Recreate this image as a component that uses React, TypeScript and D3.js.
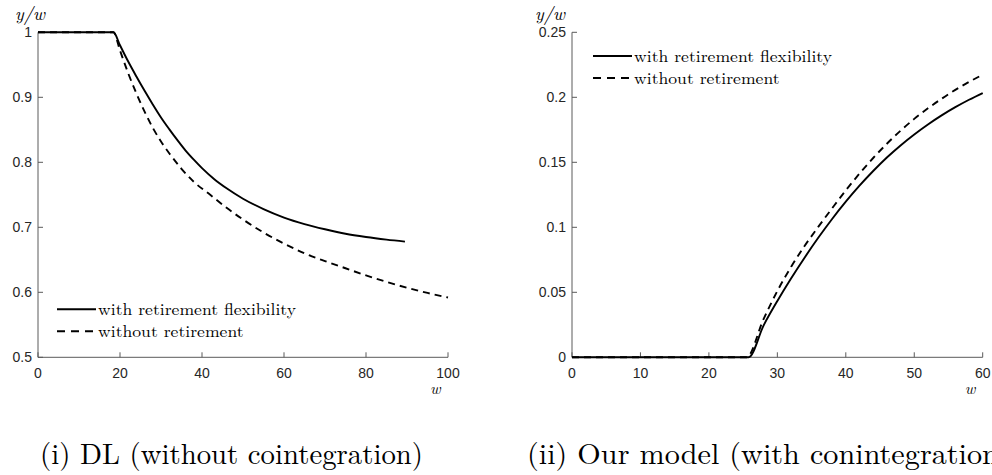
import React, { useLayoutEffect, useRef } from "react";
import * as d3 from "d3";

// ---------- data ----------
// Left panel: DL (without cointegration)
const leftSolidW = [0, 18.4, 20, 22, 24, 26, 28, 30, 32, 34, 36, 38, 40, 43, 46, 50, 55, 60, 65, 70, 75, 80, 85, 89.5];
const leftSolidV = [1, 1, 0.98, 0.955, 0.932, 0.91, 0.889, 0.869, 0.851, 0.834, 0.818, 0.804, 0.791, 0.774, 0.76, 0.744, 0.728, 0.715, 0.705, 0.697, 0.69, 0.685, 0.681, 0.678];
const leftDashW = [0, 18.4, 20, 22, 24, 26, 28, 30, 32, 35, 38, 42, 46, 50, 55, 60, 65, 70, 75, 80, 85, 90, 95, 100];
const leftDashV = [1, 1, 0.972, 0.937, 0.906, 0.878, 0.853, 0.832, 0.814, 0.79, 0.77, 0.75, 0.73, 0.712, 0.692, 0.675, 0.66, 0.648, 0.637, 0.626, 0.616, 0.607, 0.599, 0.592];

// Right panel: Our model (with cointegration)
const rightSolidW = [0, 25.8, 28, 30, 32, 34, 36, 38, 40, 42, 44, 46, 48, 50, 52, 54, 56, 58, 60];
const rightSolidV = [0, 0, 0.0246, 0.0433, 0.0606, 0.0768, 0.0921, 0.1064, 0.1197, 0.132, 0.1433, 0.1537, 0.163, 0.1714, 0.1791, 0.1861, 0.1924, 0.1981, 0.2033];
const rightDashW = [0, 25.5, 28, 30, 32, 34, 36, 38, 40, 42, 44, 46, 48, 50, 52, 54, 56, 58, 60];
const rightDashV = [0, 0, 0.0296, 0.051, 0.0695, 0.0858, 0.1005, 0.1146, 0.1284, 0.1413, 0.1533, 0.1643, 0.1743, 0.1834, 0.1915, 0.1989, 0.2057, 0.2118, 0.2174];

const leftXTicks = [0, 20, 40, 60, 80, 100];
const leftYTicks = [0.5, 0.6, 0.7, 0.8, 0.9, 1];
const leftYTickLabels = ["0.5", "0.6", "0.7", "0.8", "0.9", "1"];
const rightXTicks = [0, 10, 20, 30, 40, 50, 60];
const rightYTicks = [0, 0.05, 0.1, 0.15, 0.2, 0.25];
const rightYTickLabels = ["0", "0.05", "0.1", "0.15", "0.2", "0.25"];

const legendLabels = ["with retirement flexibility", "without retirement"];
const captions = ["(i) DL (without cointegration)", "(ii) Our model (with conintegration)"];

const W = 992;
const H = 475;
const TOP = 32.3;
const BOT = 357.3;
const AXIS = "#5a5a5a";
const TXT = "#262626";
const SERIF = '"Latin Modern Roman"';
const SANS = '"Liberation Sans"';

type PanelProps = {
  x0: number;
  x1: number;
  xDomain: [number, number];
  yDomain: [number, number];
  xTicks: number[];
  yTicks: number[];
  yLabels: string[];
  solid: [number[], number[]];
  dash: [number[], number[]];
  legendX: number;
  legendY: number;
  yLabelX: number;
};

function Panel(p: PanelProps) {
  const x = d3.scaleLinear().domain(p.xDomain).range([p.x0, p.x1]);
  const y = d3.scaleLinear().domain(p.yDomain).range([BOT, TOP]);
  const line = d3
    .line<[number, number]>()
    .x((d) => x(d[0]))
    .y((d) => y(d[1]))
    .curve(d3.curveMonotoneX);
  const solidPts = p.solid[0].map((w, i) => [w, p.solid[1][i]] as [number, number]);
  const dashPts = p.dash[0].map((w, i) => [w, p.dash[1][i]] as [number, number]);
  return (
    <g>
      <line x1={p.x0} x2={p.x0} y1={TOP} y2={BOT} stroke={AXIS} strokeWidth={1} />
      <line x1={p.x0} x2={p.x1} y1={BOT} y2={BOT} stroke={AXIS} strokeWidth={1} />
      {p.yTicks.map((t, i) => (
        <g key={"y" + i}>
          <line x1={p.x0} x2={p.x0 + 5} y1={y(t)} y2={y(t)} stroke={AXIS} strokeWidth={1} />
          <text x={p.x0 - 6} y={y(t)} dy="0.36em" textAnchor="end" fontFamily={SANS} fontSize={14} fill={TXT}>
            {p.yLabels[i]}
          </text>
        </g>
      ))}
      {p.xTicks.map((t, i) => (
        <g key={"x" + i}>
          <line x1={x(t)} x2={x(t)} y1={BOT} y2={BOT - 5} stroke={AXIS} strokeWidth={1} />
          <text x={x(t)} y={378} textAnchor="middle" fontFamily={SANS} fontSize={14} fill={TXT}>
            {t}
          </text>
        </g>
      ))}
      <text x={p.yLabelX} y={20} fontFamily={SERIF} fontStyle="italic" fontSize={18} fill="#000">
        y/w
      </text>
      <text x={p.x1 - 18} y={394} fontFamily={SERIF} fontStyle="italic" fontSize={16} fill="#000">
        w
      </text>
      <path d={line(solidPts) || ""} fill="none" stroke="#000" strokeWidth={1.9} />
      <path d={line(dashPts) || ""} fill="none" stroke="#000" strokeWidth={1.9} strokeDasharray="7,5" />
      <line x1={p.legendX} x2={p.legendX + 39} y1={p.legendY} y2={p.legendY} stroke="#000" strokeWidth={1.9} />
      <line x1={p.legendX} x2={p.legendX + 39} y1={p.legendY + 22} y2={p.legendY + 22} stroke="#000" strokeWidth={1.9} strokeDasharray="8,6" />
      <text className="leg0" x={p.legendX + 41} y={p.legendY + 5.5} fontFamily={SERIF} fontSize={16.5} fill="#000">
        {legendLabels[0]}
      </text>
      <text className="leg1" x={p.legendX + 41} y={p.legendY + 27.5} fontFamily={SERIF} fontSize={16.5} fill="#000">
        {legendLabels[1]}
      </text>
    </g>
  );
}

export default function App() {
  const ref = useRef<SVGSVGElement>(null);
  useLayoutEffect(() => {
    const svg = ref.current;
    if (!svg) return;
    const c0 = svg.querySelector(".cap0") as SVGTextElement;
    const c1 = svg.querySelector(".cap1") as SVGTextElement;
    if (c0 && c1) {
      const s = 383 / c0.getComputedTextLength();
      const w1 = c1.getComputedTextLength() * s * 1.05;
      c0.setAttribute("textLength", "383");
      c0.setAttribute("lengthAdjust", "spacingAndGlyphs");
      c1.setAttribute("textLength", String(w1));
      c1.setAttribute("lengthAdjust", "spacingAndGlyphs");
    }
    const l0s = svg.querySelectorAll(".leg0");
    const l1s = svg.querySelectorAll(".leg1");
    l0s.forEach((el, i) => {
      const t0 = el as SVGTextElement;
      const t1 = l1s[i] as SVGTextElement;
      const s = 198 / t0.getComputedTextLength();
      const w1 = t1.getComputedTextLength() * s;
      t0.setAttribute("textLength", "198");
      t0.setAttribute("lengthAdjust", "spacingAndGlyphs");
      t1.setAttribute("textLength", String(w1));
      t1.setAttribute("lengthAdjust", "spacingAndGlyphs");
    });
  }, []);

  return (
    <svg ref={ref} width={W} height={H} style={{ position: "absolute", left: 0, top: 0, background: "#fff" }}>
      <rect x={0} y={0} width={W} height={H} fill="#fff" />
      <Panel
        x0={38}
        x1={448}
        xDomain={[0, 100]}
        yDomain={[0.5, 1]}
        xTicks={leftXTicks}
        yTicks={leftYTicks}
        yLabels={leftYTickLabels}
        solid={[leftSolidW, leftSolidV]}
        dash={[leftDashW, leftDashV]}
        legendX={57}
        legendY={309.3}
        yLabelX={15}
      />
      <Panel
        x0={572}
        x1={982.7}
        xDomain={[0, 60]}
        yDomain={[0, 0.25]}
        xTicks={rightXTicks}
        yTicks={rightYTicks}
        yLabels={rightYTickLabels}
        solid={[rightSolidW, rightSolidV]}
        dash={[rightDashW, rightDashV]}
        legendX={593}
        legendY={56}
        yLabelX={535}
      />
      <text className="cap0" x={40} y={464} fontFamily={SERIF} fontSize={28.7} fill="#000">
        {captions[0]}
      </text>
      <text className="cap1" x={527} y={464} fontFamily={SERIF} fontSize={28.7} fill="#000">
        {captions[1]}
      </text>
    </svg>
  );
}
